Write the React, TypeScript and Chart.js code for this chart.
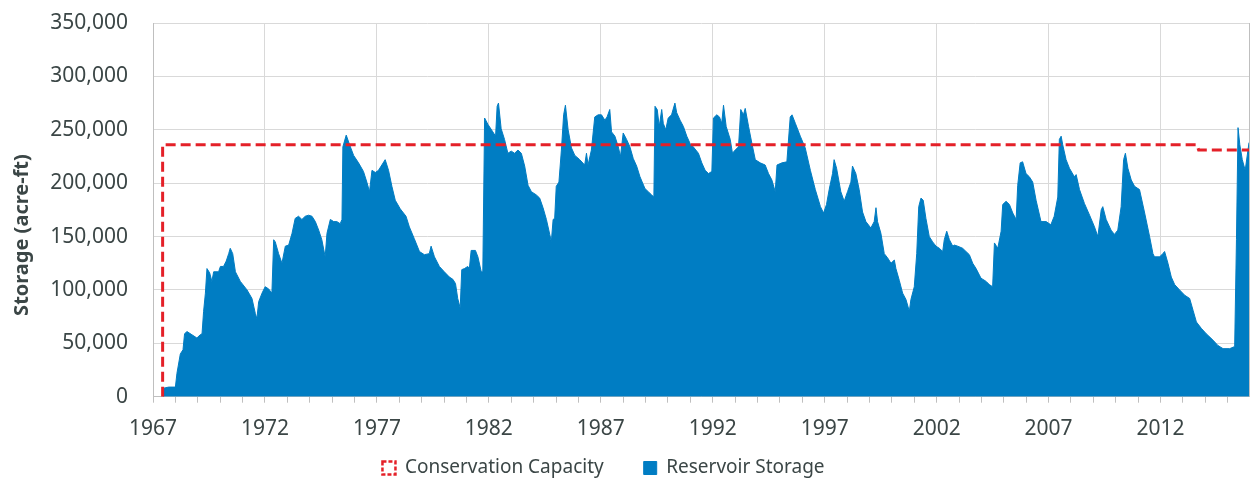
import React, { useEffect, useRef } from 'react';
import Chart from 'chart.js/auto';

// ---- Data ----
const storageYears = [
  1967.43, 1967.48, 1967.70, 1968.00, 1968.07, 1968.22, 1968.34, 1968.41, 1968.52, 1968.74,
  1968.96, 1969.11, 1969.19, 1969.26, 1969.34, 1969.41, 1969.53, 1969.63, 1969.71, 1969.93,
  1970.01, 1970.15, 1970.27, 1970.38, 1970.45, 1970.56, 1970.68, 1970.90, 1971.20, 1971.42,
  1971.57, 1971.64, 1971.72, 1971.87, 1972.01, 1972.16, 1972.31, 1972.39, 1972.46, 1972.61,
  1972.76, 1972.91, 1973.06, 1973.21, 1973.35, 1973.50, 1973.65, 1973.80, 1973.95, 1974.10,
  1974.25, 1974.40, 1974.54, 1974.69, 1974.77, 1974.92, 1975.07, 1975.21, 1975.36, 1975.44,
  1975.48, 1975.63, 1975.78, 1975.96, 1976.18, 1976.40, 1976.55, 1976.67, 1976.78, 1976.93,
  1977.07, 1977.22, 1977.37, 1977.52, 1977.67, 1977.82, 1978.04, 1978.30, 1978.45, 1978.67,
  1978.90, 1979.12, 1979.34, 1979.42, 1979.57, 1979.79, 1980.01, 1980.24, 1980.39, 1980.51,
  1980.61, 1980.72, 1980.79, 1980.91, 1981.06, 1981.13, 1981.21, 1981.40, 1981.51, 1981.66,
  1981.73, 1981.81, 1981.96, 1982.18, 1982.30, 1982.37, 1982.43, 1982.55, 1982.70, 1982.85,
  1983.00, 1983.15, 1983.30, 1983.45, 1983.60, 1983.75, 1983.90, 1984.12, 1984.27, 1984.42,
  1984.57, 1984.72, 1984.79, 1984.87, 1984.94, 1985.01, 1985.13, 1985.24, 1985.34, 1985.42,
  1985.54, 1985.69, 1985.84, 1986.06, 1986.28, 1986.36, 1986.43, 1986.58, 1986.73, 1986.88,
  1987.03, 1987.18, 1987.28, 1987.40, 1987.48, 1987.63, 1987.78, 1987.88, 1988.00, 1988.15,
  1988.30, 1988.45, 1988.60, 1988.75, 1988.97, 1989.12, 1989.27, 1989.37, 1989.42, 1989.52,
  1989.61, 1989.72, 1989.79, 1989.90, 1990.01, 1990.16, 1990.31, 1990.39, 1990.54, 1990.69,
  1990.84, 1990.99, 1991.13, 1991.36, 1991.51, 1991.66, 1991.81, 1991.96, 1992.03, 1992.18,
  1992.30, 1992.40, 1992.48, 1992.60, 1992.78, 1992.88, 1993.00, 1993.15, 1993.25, 1993.37,
  1993.45, 1993.60, 1993.75, 1993.90, 1994.12, 1994.34, 1994.49, 1994.64, 1994.79, 1994.87,
  1995.09, 1995.31, 1995.46, 1995.54, 1995.69, 1995.91, 1996.13, 1996.36, 1996.58, 1996.81,
  1996.95, 1997.08, 1997.20, 1997.35, 1997.42, 1997.53, 1997.72, 1997.87, 1998.02, 1998.17,
  1998.24, 1998.39, 1998.54, 1998.69, 1998.84, 1999.06, 1999.21, 1999.29, 1999.36, 1999.51,
  1999.66, 1999.81, 1999.96, 2000.11, 2000.18, 2000.33, 2000.48, 2000.63, 2000.78, 2000.85,
  2001.00, 2001.11, 2001.20, 2001.30, 2001.40, 2001.52, 2001.67, 2001.82, 2001.97, 2002.12,
  2002.27, 2002.34, 2002.45, 2002.57, 2002.72, 2002.79, 2002.94, 2003.16, 2003.31, 2003.46,
  2003.61, 2003.76, 2003.98, 2004.21, 2004.35, 2004.50, 2004.58, 2004.73, 2004.88, 2004.95,
  2005.10, 2005.25, 2005.40, 2005.55, 2005.62, 2005.73, 2005.84, 2005.99, 2006.14, 2006.29,
  2006.44, 2006.66, 2006.89, 2007.10, 2007.25, 2007.41, 2007.48, 2007.56, 2007.63, 2007.78,
  2007.93, 2008.15, 2008.23, 2008.38, 2008.60, 2008.83, 2009.05, 2009.20, 2009.35, 2009.42,
  2009.57, 2009.79, 2009.94, 2010.09, 2010.24, 2010.35, 2010.43, 2010.54, 2010.69, 2010.84,
  2011.06, 2011.28, 2011.51, 2011.66, 2011.73, 2011.96, 2012.10, 2012.18, 2012.33, 2012.48,
  2012.63, 2012.85, 2013.08, 2013.30, 2013.45, 2013.60, 2013.82, 2014.04, 2014.34, 2014.56,
  2014.79, 2015.09, 2015.31, 2015.39, 2015.46, 2015.54, 2015.65, 2015.78, 2015.95,
];

const storageValues = [
  6000, 8000, 9000, 9000, 22000, 40000, 44000, 59000, 61000, 58000,
  55000, 58000, 59000, 80000, 97000, 120000, 116000, 108000, 117000, 117000,
  122000, 122000, 127000, 134000, 139000, 134000, 117000, 108000, 100000, 92000,
  78000, 73000, 89000, 97000, 103000, 101000, 97000, 147000, 145000, 134000,
  125000, 141000, 142000, 153000, 167000, 169000, 166000, 169000, 170000, 169000,
  164000, 156000, 147000, 131000, 153000, 166000, 164000, 164000, 162000, 166000,
  234000, 245000, 236000, 226000, 219000, 211000, 201000, 192000, 212000, 210000,
  212000, 217000, 222000, 212000, 197000, 184000, 176000, 169000, 159000, 148000,
  136000, 133000, 134000, 141000, 131000, 122000, 117000, 112000, 110000, 106000,
  92000, 83000, 119000, 120000, 122000, 120000, 137000, 137000, 131000, 117000,
  117000, 261000, 255000, 248000, 244000, 272000, 275000, 251000, 241000, 228000,
  230000, 228000, 231000, 228000, 216000, 198000, 192000, 189000, 186000, 177000,
  166000, 152000, 145000, 166000, 167000, 197000, 201000, 231000, 264000, 273000,
  250000, 233000, 226000, 222000, 217000, 228000, 217000, 231000, 262000, 264000,
  264000, 259000, 262000, 269000, 248000, 244000, 234000, 225000, 247000, 241000,
  234000, 223000, 216000, 206000, 195000, 192000, 189000, 187000, 272000, 269000,
  253000, 269000, 256000, 250000, 261000, 264000, 275000, 266000, 259000, 253000,
  244000, 237000, 234000, 228000, 219000, 212000, 209000, 211000, 261000, 264000,
  262000, 256000, 273000, 253000, 241000, 228000, 231000, 234000, 269000, 264000,
  270000, 253000, 237000, 222000, 219000, 217000, 209000, 203000, 192000, 217000,
  219000, 220000, 262000, 264000, 256000, 244000, 233000, 212000, 194000, 178000,
  172000, 180000, 194000, 209000, 222000, 214000, 192000, 183000, 192000, 201000,
  216000, 209000, 194000, 173000, 164000, 158000, 164000, 177000, 164000, 153000,
  134000, 130000, 125000, 128000, 120000, 109000, 97000, 91000, 80000, 91000,
  103000, 134000, 178000, 186000, 184000, 167000, 150000, 145000, 141000, 139000,
  136000, 147000, 155000, 147000, 141000, 142000, 141000, 139000, 136000, 133000,
  125000, 120000, 111000, 108000, 105000, 103000, 144000, 139000, 155000, 180000,
  183000, 180000, 172000, 166000, 198000, 219000, 220000, 209000, 206000, 201000,
  184000, 164000, 164000, 161000, 169000, 187000, 241000, 244000, 236000, 222000,
  214000, 206000, 208000, 194000, 181000, 170000, 159000, 150000, 175000, 178000,
  166000, 156000, 152000, 156000, 178000, 222000, 228000, 214000, 203000, 197000,
  194000, 173000, 150000, 134000, 131000, 131000, 134000, 136000, 125000, 112000,
  105000, 100000, 95000, 92000, 81000, 70000, 64000, 59000, 53000, 48000,
  45000, 45000, 47000, 147000, 252000, 236000, 222000, 212000, 238000,
];

const capacityYears = [1967.43, 1967.43, 2013.62, 2013.70, 2015.95];
const capacityValues = [0, 236000, 236000, 231000, 231000];

const seriesNames = ['Conservation Capacity', 'Reservoir Storage'];
const yAxisTitle = 'Storage (acre-ft)';

const xMin = 1967;
const xMax = 2015.95;
const xTickYears = [
  1967, 1968, 1969, 1970, 1971, 1972, 1973, 1974, 1975, 1976, 1977, 1978, 1979, 1980,
  1981, 1982, 1983, 1984, 1985, 1986, 1987, 1988, 1989, 1990, 1991, 1992, 1993, 1994,
  1995, 1996, 1997, 1998, 1999, 2000, 2001, 2002, 2003, 2004, 2005, 2006, 2007, 2008,
  2009, 2010, 2011, 2012, 2013, 2014, 2015,
];
const xLabelYears = [1967, 1972, 1977, 1982, 1987, 1992, 1997, 2002, 2007, 2012];
const yMin = 0;
const yMax = 350000;
const yStep = 50000;

// ---- Styles ----
const TEXT = '#3b4646';
const GRID = '#d9d9d9';
const AXIS = '#bfbfbf';
const BLUE = 'rgb(0,125,195)';
const RED = 'rgb(228,32,40)';
const NONE = 'rgba(0,0,0,0)';
const FONT = "'Noto Sans', 'DejaVu Sans', sans-serif";

const LEGEND_FONT = 19;
const LEGEND_PAD = 40;
const LEGEND_CENTER_Y = 468;
const LEGEND_DX = -21;
const X_AXIS_H = 48;
const PLOT_BOTTOM = 396.7;
const CANVAS_H = 479;

const legendShift = {
  id: 'legendShift',
  afterLayout(chart: any) {
    const lg = chart.legend;
    if (lg) {
      lg.left += LEGEND_DX;
      lg.right += LEGEND_DX;
      lg.top = LEGEND_CENTER_Y - LEGEND_PAD - LEGEND_FONT / 2;
      lg.bottom = CANVAS_H + 20;
    }
  },
};

export default function App() {
  const ref = useRef<HTMLCanvasElement | null>(null);

  useEffect(() => {
    if (!ref.current) return;
    const storage = storageYears.map((x, i) => ({ x, y: storageValues[i] }));
    const capacity = capacityYears.map((x, i) => ({ x, y: capacityValues[i] }));

    const chart = new Chart(ref.current, {
      type: 'line',
      data: {
        datasets: [
          {
            label: seriesNames[0],
            data: capacity,
            borderColor: RED,
            backgroundColor: NONE,
            borderWidth: 3,
            borderDash: [10, 5],
            pointRadius: 0,
            fill: false,
            tension: 0,
          },
          {
            label: seriesNames[1],
            data: storage,
            borderColor: BLUE,
            backgroundColor: BLUE,
            borderWidth: 1,
            pointRadius: 0,
            fill: 'origin',
            tension: 0,
          },
        ],
      },
      options: {
        animation: false,
        responsive: true,
        maintainAspectRatio: false,
        layout: { padding: { top: 23, right: 2, left: 0, bottom: 0 } },
        plugins: {
          tooltip: { enabled: false },
          legend: {
            position: 'bottom',
            maxHeight: CANVAS_H - PLOT_BOTTOM - X_AXIS_H,
            labels: {
              boxWidth: 13,
              boxHeight: 13,
              padding: LEGEND_PAD,
              color: TEXT,
              font: { family: FONT, size: LEGEND_FONT },
              generateLabels(chart: any) {
                const items = (Chart as any).defaults.plugins.legend.labels.generateLabels(chart);
                if (items[0]) {
                  items[0].lineWidth = 2.5;
                  items[0].lineDash = [4, 2];
                  items[0].fillStyle = NONE;
                }
                return items;
              },
            },
          },
        },
        scales: {
          x: {
            type: 'linear',
            min: xMin,
            max: xMax,
            afterBuildTicks(scale: any) {
              scale.ticks = xTickYears.map((v) => ({ value: v }));
            },
            afterFit(scale: any) {
              scale.height = X_AXIS_H;
            },
            ticks: {
              autoSkip: false,
              maxRotation: 0,
              minRotation: 0,
              padding: 14,
              color: TEXT,
              font: { family: FONT, size: 21 },
              callback: (v: any) => (xLabelYears.includes(Number(v)) ? String(v) : ''),
            },
            grid: {
              drawTicks: true,
              tickLength: 6,
              tickColor: AXIS,
              lineWidth: 1,
              color: (ctx: any) => {
                const v = ctx.tick ? ctx.tick.value : null;
                return v != null && xLabelYears.includes(v) ? GRID : NONE;
              },
            },
            border: { color: AXIS, width: 1 },
          },
          y: {
            min: yMin,
            max: yMax,
            afterFit(scale: any) {
              scale.width = 153;
            },
            ticks: {
              stepSize: yStep,
              padding: 0,
              color: TEXT,
              font: { family: FONT, size: 21 },
              callback: (v: any) => Number(v).toLocaleString('en-US'),
            },
            grid: { color: GRID, drawTicks: true, tickLength: 25, tickColor: NONE, lineWidth: 1 },
            border: { color: AXIS, width: 1 },
            title: {
              display: true,
              text: yAxisTitle + '\u2003\u2003  ',
              color: TEXT,
              font: { family: FONT, size: 20, weight: 'bold' },
              padding: { top: 10, bottom: 0 },
            },
          },
          yRight: {
            position: 'right',
            min: yMin,
            max: yMax,
            ticks: { display: false },
            grid: { drawOnChartArea: false, drawTicks: false },
            border: { color: AXIS, width: 1 },
          },
        },
      },
      plugins: [legendShift],
    } as any);

    return () => chart.destroy();
  }, []);

  return (
    <div
      style={{
        position: 'fixed',
        left: 0,
        top: 0,
        width: 1251,
        height: CANVAS_H,
        background: '#ffffff',
      }}
    >
      <canvas ref={ref} />
    </div>
  );
}
